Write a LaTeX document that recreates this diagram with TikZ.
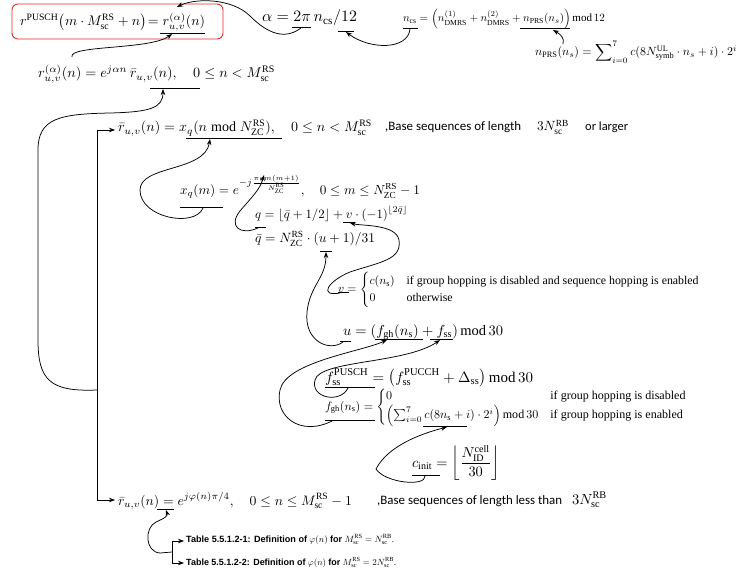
\documentclass[tikz,border=0pt]{standalone}
\usepackage{amsmath}
\usepackage{graphicx}
\usepackage{fontspec}
\setmainfont{Liberation Serif}
\newfontfamily\calib{Carlito}
\newfontfamily\arialf{Liberation Sans}
\usetikzlibrary{arrows.meta}
\newcommand\fitw[2]{\resizebox{#1pt}{!}{#2}}
\newcommand\rmm[1]{\mathrm{#1}}
\begin{document}
\begin{tikzpicture}[x=1pt,y=-1pt,
  eqn/.style={anchor=base west, inner sep=0pt, outer sep=0pt},
  eqc/.style={anchor=west, inner sep=0pt, outer sep=0pt},
  conn/.style={-{Stealth[length=6pt,width=4.5pt]}, line width=0.75pt},
  ul/.style={line width=0.75pt},
  redbox/.style={draw={rgb,255:red,225;green,45;blue,45}, line width=0.9pt, rounded corners=6pt, minimum width=211pt, minimum height=35pt, inner sep=0pt},
  note/.style={anchor=base west, inner sep=0pt, font=\fontsize{13}{15}\calib},
  tab/.style={anchor=base west, inner sep=0pt}]
\useasboundingbox (0,0) rectangle (744,572);
\fill[white] (0,0) rectangle (744,572);

% red box and equations
\node[redbox] (box) at (117.5,21.5) {};
\node[eqn] (e1) at (20,26) {\fitw{185}{$\displaystyle r^{\rmm{PUSCH}}\!\left(m\cdot M_{\rmm{sc}}^{\rmm{RS}}+n\right)\!=r_{u,v}^{(\alpha)}(n)$}};
\node[eqn] (e2) at (38,78) {\fitw{237}{$\displaystyle r_{u,v}^{(\alpha)}(n)=e^{j\alpha n}\,\bar{r}_{u,v}(n),\quad 0\le n<M_{\rmm{sc}}^{\rmm{RS}}$}};
\node[eqn] (ea) at (262,22) {\fitw{95}{$\displaystyle \alpha=2\pi\, n_{\rmm{cs}}/12$}};
\node[eqn] (encs) at (403,22) {\fitw{202}{$\displaystyle n_{\rmm{cs}}=\left(n_{\rmm{DMRS}}^{(1)}+n_{\rmm{DMRS}}^{(2)}+n_{\rmm{PRS}}(n_s)\right)\rmm{mod}\,12$}};
\node[eqn] (eprs) at (535,56) {\fitw{202}{$\displaystyle n_{\rmm{PRS}}(n_s)=\sum\nolimits_{i=0}^{7}c(8N_{\rmm{symb}}^{\rmm{UL}}\cdot n_s+i)\cdot 2^{i}$}};
\node[eqn] (e3) at (118,132) {\fitw{254}{$\displaystyle \bar{r}_{u,v}(n)=x_q(n \bmod N_{\rmm{ZC}}^{\rmm{RS}}),\quad 0\le n<M_{\rmm{sc}}^{\rmm{RS}}$}};
\node[note] (t1) at (385,131) {\fitw{136}{,Base sequences of length}};
\node[eqn] (t1m) at (537,131) {\fitw{32}{$3N_{\rmm{sc}}^{\rmm{RB}}$}};
\node[note] (t1b) at (585,131) {\fitw{43}{or larger}};
\node[eqn] (exq) at (180,195) {\fitw{240}{$\displaystyle x_q(m)=e^{-j\frac{\pi q m(m+1)}{N_{\rmm{ZC}}^{\rmm{RS}}}},\quad 0\le m\le N_{\rmm{ZC}}^{\rmm{RS}}-1$}};
\node[eqn] (eq) at (255,218) {\fitw{153}{$\displaystyle q=\lfloor\bar q+1/2\rfloor+v\cdot(-1)^{\lfloor 2\bar q\rfloor}$}};
\node[eqn] (eqb) at (255,243) {\fitw{120}{$\displaystyle \bar q=N_{\rmm{ZC}}^{\rmm{RS}}\cdot(u+1)/31$}};
\node[eqc] (ev) at (338,290) {\fitw{362}{$\displaystyle v=\begin{cases}c(n_{\rmm s})&\text{if group hopping is disabled and sequence hopping is enabled}\\0&\text{otherwise}\end{cases}$}};
\node[eqn] (eu) at (343,335) {\fitw{160}{$\displaystyle u=\left(f_{\rmm{gh}}(n_{\rmm s})+f_{\rmm{ss}}\right)\rmm{mod}\,30$}};
\node[eqn] (efss) at (325,382) {\fitw{208}{$\displaystyle f_{\rmm{ss}}^{\rmm{PUSCH}}=\left(f_{\rmm{ss}}^{\rmm{PUCCH}}+\Delta_{\rmm{ss}}\right)\rmm{mod}\,30$}};
\node[eqc] (efgh) at (325,407) {\fitw{362}{$\displaystyle f_{\rmm{gh}}(n_{\rmm s})=\begin{cases}0&\text{if group hopping is disabled}\\\left(\sum\nolimits_{i=0}^{7}c(8n_{\rmm s}+i)\cdot2^i\right)\rmm{mod}\,30&\text{if group hopping is enabled}\end{cases}$}};
\node[eqc] (eci) at (412,463) {\fitw{88}{$\displaystyle c_{\rmm{init}}=\left\lfloor\frac{N_{\rmm{ID}}^{\rmm{cell}}}{30}\right\rfloor$}};
\node[eqn] (e4) at (118,505) {\fitw{234}{$\displaystyle \bar{r}_{u,v}(n)=e^{j\varphi(n)\pi/4},\quad 0\le n\le M_{\rmm{sc}}^{\rmm{RS}}-1$}};
\node[note] (t2) at (377,504) {\fitw{185}{,Base sequences of length less than}};
\node[eqn] (t2m) at (572,504) {\fitw{35}{$3N_{\rmm{sc}}^{\rmm{RB}}$}};
\node[tab] (tab1) at (186,542) {\fitw{208}{{\arialf\bfseries Table 5.5.1.2-1: Definition of} $\varphi(n)$ {\arialf\bfseries for} $M_{\rmm{sc}}^{\rmm{RS}}=N_{\rmm{sc}}^{\rmm{RB}}$.}};
\node[tab] (tab2) at (186,565) {\fitw{210}{{\arialf\bfseries Table 5.5.1.2-2: Definition of} $\varphi(n)$ {\arialf\bfseries for} $M_{\rmm{sc}}^{\rmm{RS}}=2N_{\rmm{sc}}^{\rmm{RB}}$.}};

% underlines
\draw[ul] (160,33) -- (205,33);
\draw[ul] (150,88) -- (200,88);
\draw[ul] (292,27) -- (311,27);
\draw[ul] (338,31) -- (354,31);
\draw[ul] (403,28) -- (418,28);
\draw[ul] (520,28) -- (570,28);
\draw[ul] (186,138) -- (282,138);
\draw[ul] (180,207) -- (223,207);
\draw[ul] (255,227) -- (266,227);
\draw[ul] (343,222) -- (355,222);
\draw[ul] (320,251) -- (332,251);
\draw[ul] (338,292) -- (349,292);
\draw[ul] (340,341) -- (351,341);
\draw[ul] (375,339) -- (423,339);
\draw[ul] (430,339) -- (453,339);
\draw[ul] (325,387) -- (375,387);
\draw[ul] (325,420) -- (375,420);
\draw[ul] (423,426) -- (467,426);
\draw[ul] (412,475) -- (440,475);
\draw[ul] (157,509) -- (174,509);

% connector end points
\coordinate (c1s) at (72,57);   \coordinate (c1e) at (172,34);
\coordinate (c2s) at (301,28);  \coordinate (c2e) at (177,7);
\coordinate (c3s) at (410,29);  \coordinate (c3e) at (346,32);
\coordinate (c4s) at (563,44);  \coordinate (c4e) at (553,30);
\coordinate (j1) at (97,390);   \coordinate (c5e) at (163,89);
\coordinate (bt) at (97,130);   \coordinate (bb) at (97,500);
\coordinate (c7s) at (203,208); \coordinate (c7e) at (210,139);
\coordinate (c8s) at (258,228); \coordinate (c8e) at (264,175);
\coordinate (c9s) at (340,293); \coordinate (c9e) at (350,223);
\coordinate (c10s) at (343,342); \coordinate (c10e) at (326,252);
\coordinate (c11s) at (348,388); \coordinate (c11e) at (440,340);
\coordinate (c12s) at (332,421); \coordinate (c12e) at (387,340);
\coordinate (c13s) at (425,476); \coordinate (c13e) at (447,427);
\coordinate (tt) at (172,541);  \coordinate (tb) at (172,563);
\coordinate (tm) at (172,552);  \coordinate (c15e) at (166,510);

% connectors
\draw[conn] (c1s) .. controls (68,45) and (150,50) .. (c1e);
\draw[conn] (c2s) .. controls (285,40) and (268,34) .. (250,16) .. controls (232,-2) and (195,-2) .. (c2e);
\draw[conn] (c3s) .. controls (408,50) and (370,50) .. (c3e);
\draw[conn] (c4s) .. controls (565,38) and (560,34) .. (c4e);
\draw[conn] (j1) .. controls (50,392) and (38,380) .. (38,340) -- (38,150) .. controls (38,118) and (60,114) .. (110,113) .. controls (150,112) and (163,108) .. (c5e);
\draw[ul] (bt) -- (bb);
\draw[conn] (bt) -- (115,130);
\draw[conn] (bb) -- (115,500);
\draw[conn] (c7s) .. controls (195,228) and (140,218) .. (140,190) .. controls (140,165) and (205,172) .. (c7e);
\draw[conn] (c8s) .. controls (240,236) and (228,226) .. (240,211) .. controls (250,199) and (260,190) .. (c8e);
\draw[conn] (c9s) .. controls (318,297) and (328,281) .. (350,272) .. controls (380,262) and (402,260) .. (399,240) .. controls (396,224) and (362,226) .. (c9e);
\draw[conn] (c10s) .. controls (330,352) and (304,342) .. (307,312) .. controls (310,285) and (326,278) .. (c10e);
\draw[conn] (c11s) .. controls (340,404) and (310,398) .. (315,380) .. controls (320,360) and (405,364) .. (c11e);
\draw[conn] (c12s) .. controls (300,437) and (274,416) .. (280,390) .. controls (286,362) and (360,352) .. (c12e);
\draw[conn] (c13s) .. controls (426,487) and (385,483) .. (376,469) .. controls (388,446) and (420,434) .. (c13e);
\draw[ul] (tt) -- (tb);
\draw[conn] (tt) -- (184,541);
\draw[conn] (tb) -- (184,563);
\draw[conn] (tm) -- (160,553) .. controls (145,552) and (144,528) .. (156,522) .. controls (165,518) and (168,516) .. (c15e);
\end{tikzpicture}
\end{document}
